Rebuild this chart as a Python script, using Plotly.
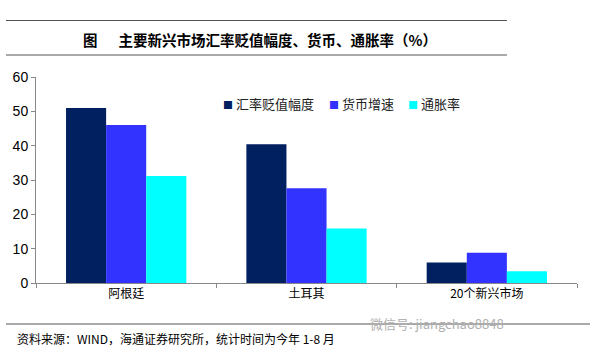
import plotly.graph_objects as go

categories = ["阿根廷", "土耳其", "20个新兴市场"]
series_names = ["汇率贬值幅度", "货币增速", "通胀率"]
depreciation = [51.0, 40.4, 6.0]
money_growth = [46.0, 27.6, 8.8]
inflation = [31.2, 15.9, 3.4]
colors = ["#002060", "#3333FF", "#00FFFF"]
y_ticks = [0, 10, 20, 30, 40, 50, 60]

title_text = "图　  主要新兴市场汇率贬值幅度、货币、通胀率（%）"
source_text = "资料来源：WIND，海通证券研究所，统计时间为今年 1-8 月"
watermark_text = "微信号: jiangchao8848"

cjk = "Noto Sans CJK SC"
fig = go.Figure()
for name, vals, c in zip(series_names, [depreciation, money_growth, inflation], colors):
    fig.add_trace(go.Bar(x=categories, y=vals, name=name, marker=dict(color=c, line=dict(width=0))))

W, H = 600, 351
L, R, T, B = 36, 23, 77, 68
pw, ph = W - L - R, H - T - B


def px(x):
    return (x - L) / pw


def py(y):
    return (H - B - y) / ph


fig.update_layout(
    width=W, height=H,
    margin=dict(l=L, r=R, t=T, b=B),
    paper_bgcolor="white", plot_bgcolor="white",
    barmode="group", bargap=0.333, bargroupgap=0,
    font=dict(family=cjk, size=12, color="black"),
    showlegend=False,
    xaxis=dict(showline=True, linecolor="#888", linewidth=1, ticks="outside",
               tickson="boundaries", ticklen=4, tickcolor="#888",
               tickfont=dict(family=cjk, size=12, color="black"), showgrid=False),
    yaxis=dict(range=[0, 60], tickvals=y_ticks, showline=True, linecolor="#888", linewidth=1,
               ticks="outside", ticklen=4, tickcolor="#888", showgrid=False, zeroline=False,
               tickfont=dict(family="Liberation Sans, Arial", size=14, color="black")),
)

# legend built from series names / colours
legend_x = [221, 327, 406]
for name, c, lx in zip(series_names, colors, legend_x):
    fig.add_annotation(xref="paper", yref="paper", x=px(lx), y=py(103), xanchor="left", yanchor="middle",
                       showarrow=False,
                       text=f"<span style='color:{c};font-size:10px'>■</span> {name}",
                       font=dict(family=cjk, size=13, color="#222"))

# header lines and title
fig.add_shape(type="line", xref="paper", yref="paper", x0=px(6), x1=px(507),
              y0=py(20.5), y1=py(20.5), line=dict(color="#555", width=1))
fig.add_shape(type="line", xref="paper", yref="paper", x0=px(6), x1=px(507),
              y0=py(55), y1=py(55), line=dict(color="#555", width=1))
fig.add_annotation(xref="paper", yref="paper", x=px(81), y=py(39),
                   xanchor="left", yanchor="middle", showarrow=False, text="<b>" + title_text + "</b>",
                   font=dict(family=cjk, size=14.5, color="black"))
# footer line and source
fig.add_shape(type="line", xref="paper", yref="paper", x0=px(6), x1=px(590),
              y0=py(324), y1=py(324), line=dict(color="#555", width=1))
fig.add_annotation(xref="paper", yref="paper", x=px(15), y=py(338),
                   xanchor="left", yanchor="middle", showarrow=False, text=source_text,
                   font=dict(family=cjk, size=12, color="black"))
fig.add_annotation(xref="paper", yref="paper", x=px(368), y=py(323),
                   xanchor="left", yanchor="middle", showarrow=False, text=watermark_text,
                   font=dict(family=cjk, size=13, color="#b0b0b0"))

fig.write_html("out.html")
